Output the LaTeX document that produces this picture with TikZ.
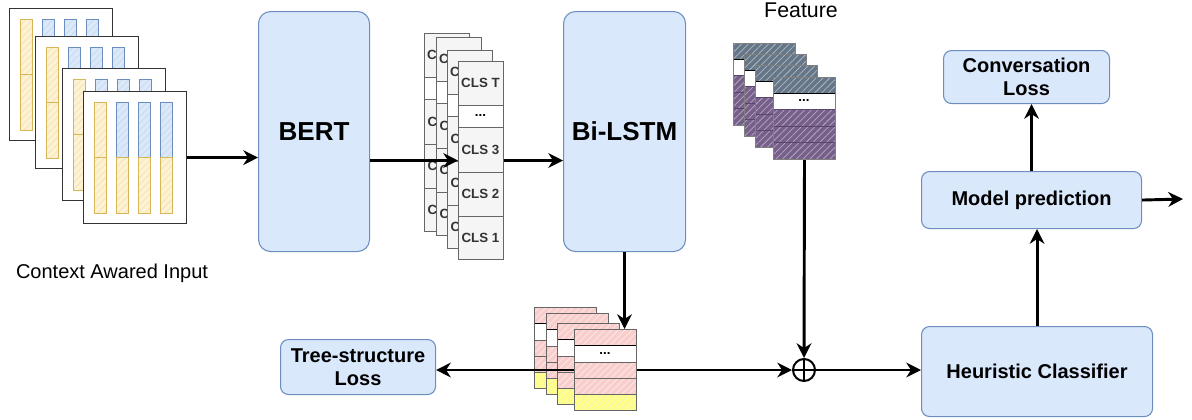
\documentclass[tikz,border=0pt]{standalone}
\usepackage{fontspec}
\setmainfont{Liberation Sans}
\usetikzlibrary{arrows.meta,patterns.meta}
\definecolor{bfill}{HTML}{DAE8FC}
\definecolor{bdraw}{HTML}{6C8EBF}
\definecolor{yfill}{HTML}{FFF2CC}
\definecolor{ydraw}{HTML}{D6B656}
\definecolor{yhatch}{HTML}{E9E2CF}
\definecolor{bhatch}{HTML}{CDD8E6}
\definecolor{gfill}{HTML}{F5F5F5}
\definecolor{gdraw}{HTML}{666666}
\definecolor{gtext}{HTML}{333333}
\definecolor{pfill}{HTML}{F8CECC}
\definecolor{phatch}{HTML}{FDEAE9}
\definecolor{lfill}{HTML}{FFFF88}
\definecolor{lhatch}{HTML}{F2F2C4}
\definecolor{sfill}{HTML}{647687}
\definecolor{shatch}{HTML}{B0B8C1}
\definecolor{mfill}{HTML}{76608A}
\definecolor{mhatch}{HTML}{B4A7C1}
\definecolor{sdraw}{HTML}{4A5866}
\definecolor{mdraw}{HTML}{5A4570}
\tikzset{
  hatchfill/.style 2 args={preaction={fill=#1},pattern={Lines[angle=45,distance=3.6pt,line width=0.55pt]},pattern color=#2},
  blk/.style={draw=bdraw,fill=bfill,line width=0.8pt,inner sep=0pt,anchor=north west,align=center,
    font=\bfseries\fontsize{15}{17}\selectfont},
  arr/.style={line width=2.2pt,-{Stealth[length=11pt,width=11pt,inset=3.5pt]}},
  seg/.style={line width=0.75pt},
  clstext/.style={font=\bfseries\fontsize{10}{12}\selectfont,text=gtext,inner sep=0pt},
  dots/.style={font=\bfseries\fontsize{10}{12}\selectfont,inner sep=0pt},
  lbl/.style={font=\fontsize{15}{17}\selectfont,inner sep=0pt,anchor=base},
  sheetframe/.style={inner sep=0pt,anchor=north west}
}
\newcommand{\ctxsheet}[3]{%
  \begin{scope}[shift={(#2,#3)}]
    \node[sheetframe,draw=black!80,fill=white,line width=0.9pt,minimum width=103*0.75pt,minimum height=132*0.75pt] (#1) at (0,0) {};
    \draw[ydraw,seg,hatchfill={yfill}{yhatch}] (11,11) rectangle (23,66);
    \draw[ydraw,seg,hatchfill={yfill}{yhatch}] (11,66) rectangle (23,122);
    \foreach \bx in {33,55,77}{
      \draw[bdraw,seg,hatchfill={bfill}{bhatch}] (\bx,11) rectangle ({\bx+12},66);
      \draw[ydraw,seg,hatchfill={yfill}{yhatch}] (\bx,66) rectangle ({\bx+12},122);
    }
  \end{scope}}
\newcommand{\clssheet}[3]{%
  \begin{scope}[shift={(#2,#3)}]
    \draw[gdraw,seg,fill=gfill] (0,0) rectangle (45,44);
    \node[clstext] at (22.5,22) {CLS T};
    \draw[gdraw,seg,fill=white] (0,44) rectangle (45,66);
    \node[dots] at (22.5,54) {...};
    \draw[gdraw,seg,fill=gfill] (0,66) rectangle (45,111);
    \node[clstext] at (22.5,88.5) {CLS 3};
    \draw[gdraw,seg,fill=gfill] (0,111) rectangle (45,155);
    \node[clstext] at (22.5,133) {CLS 2};
    \draw[gdraw,seg,fill=gfill] (0,155) rectangle (45,198);
    \node[clstext] at (22.5,176.5) {CLS 1};
    \node[sheetframe,draw=gdraw,seg,minimum width=45*0.75pt,minimum height=198*0.75pt] (#1) at (0,0) {};
  \end{scope}}
\newcommand{\pinksheet}[3]{%
  \begin{scope}[shift={(#2,#3)}]
    \draw[gdraw,seg,hatchfill={pfill}{phatch}] (0,0) rectangle (62,16);
    \draw[black,seg,fill=white] (0,16) rectangle (62,33);
    \node[dots] at (31,24) {...};
    \draw[gdraw,seg,hatchfill={pfill}{phatch}] (0,33) rectangle (62,49);
    \draw[gdraw,seg,hatchfill={pfill}{phatch}] (0,49) rectangle (62,65);
    \draw[gdraw,seg,hatchfill={lfill}{lhatch}] (0,65) rectangle (62,81);
    \node[sheetframe,draw=gdraw,seg,minimum width=62*0.75pt,minimum height=81*0.75pt] (#1) at (0,0) {};
  \end{scope}}
\newcommand{\featsheet}[3]{%
  \begin{scope}[shift={(#2,#3)}]
    \draw[sdraw,seg,hatchfill={sfill}{shatch}] (0,0) rectangle (62,16);
    \draw[black,seg,fill=white] (0,16) rectangle (62,32);
    \node[dots] at (31,23.5) {...};
    \draw[mdraw,seg,hatchfill={mfill}{mhatch}] (0,32) rectangle (62,49);
    \draw[mdraw,seg,hatchfill={mfill}{mhatch}] (0,49) rectangle (62,65);
    \draw[mdraw,seg,hatchfill={mfill}{mhatch}] (0,65) rectangle (62,82);
    \node[sheetframe,draw=gray,seg,minimum width=62*0.75pt,minimum height=82*0.75pt] (#1) at (0,0) {};
  \end{scope}}
\begin{document}
\begin{tikzpicture}[x=0.75pt,y=-0.75pt]
\useasboundingbox (0,0) rectangle (1192,419);

% context input sheets
\ctxsheet{ctxa}{9}{8}
\ctxsheet{ctxb}{35}{36}
\ctxsheet{ctxc}{62}{68}
\ctxsheet{ctxd}{83}{91}
\node[lbl] (ctxlbl) at (112,278) {Context Awared Input};

% main blocks
\node[blk,rounded corners=9pt,minimum width=111*0.75pt,minimum height=240*0.75pt,font=\bfseries\fontsize{19.5}{22}\selectfont] (bert) at (258,11) {BERT};
\node[blk,rounded corners=9pt,minimum width=122*0.75pt,minimum height=240*0.75pt,font=\bfseries\fontsize{19.5}{22}\selectfont] (bilstm) at (563,11) {Bi-LSTM};
\node[blk,rounded corners=6pt,minimum width=166*0.75pt,minimum height=53*0.75pt] (conv) at (943,50) {Conversation\\Loss};
\node[blk,rounded corners=6pt,minimum width=220*0.75pt,minimum height=57*0.75pt] (model) at (921,171) {Model prediction};
\node[blk,rounded corners=6pt,minimum width=231*0.75pt,minimum height=90*0.75pt] (heur) at (921,326) {Heuristic Classifier};
\node[blk,rounded corners=6pt,minimum width=155*0.75pt,minimum height=55*0.75pt] (tree) at (280,339) {Tree-structure\\Loss};

% CLS stacks
\clssheet{clsa}{424}{33}
\clssheet{clsb}{436}{37}
\clssheet{clsc}{447}{50}
\clssheet{clsd}{458}{61}

% feature stacks
\node[lbl,font=\fontsize{16}{18}\selectfont] (featlbl) at (801,17) {Feature};
\featsheet{feata}{733}{43}
\featsheet{featb}{744}{54}
\featsheet{featc}{755}{65}
\featsheet{featd}{773}{77}

% pink stacks
\pinksheet{pinka}{534}{307}
\pinksheet{pinkb}{546}{313}
\pinksheet{pinkc}{557}{323}
\pinksheet{pinkd}{574}{329}

% oplus
\node[circle,draw,line width=1.5pt,minimum size=22*0.75pt,inner sep=0pt] (oplus) at (804,370) {};
\draw[line width=1.5pt] (oplus.north) -- (oplus.south) (oplus.west) -- (oplus.east);

% connectors
\coordinate (outp) at (1183,199);
\draw[arr] (ctxd.east) -- (ctxd.east -| bert.west);
\draw[arr] (bert.east |- clsd.west) -- (clsd.west);
\draw[arr] (clsd.east) -- (clsd.east -| bilstm.west);
\draw[arr] (bilstm.south) -- (bilstm.south |- pinkd.north);
\draw[arr] (pinkd.west) -- (pinkd.west -| tree.east);
\draw[arr] (pinkd.east) -- (oplus.west);
\draw[arr] (featd.south) -- (oplus.north);
\draw[arr] (oplus.east) -- (oplus.east -| heur.west);
\draw[arr] (heur.north) -- (heur.north |- model.south);
\draw[arr] (model.north) -- (model.north |- conv.south);
\draw[arr] (model.east) -- (outp);
\end{tikzpicture}
\end{document}
